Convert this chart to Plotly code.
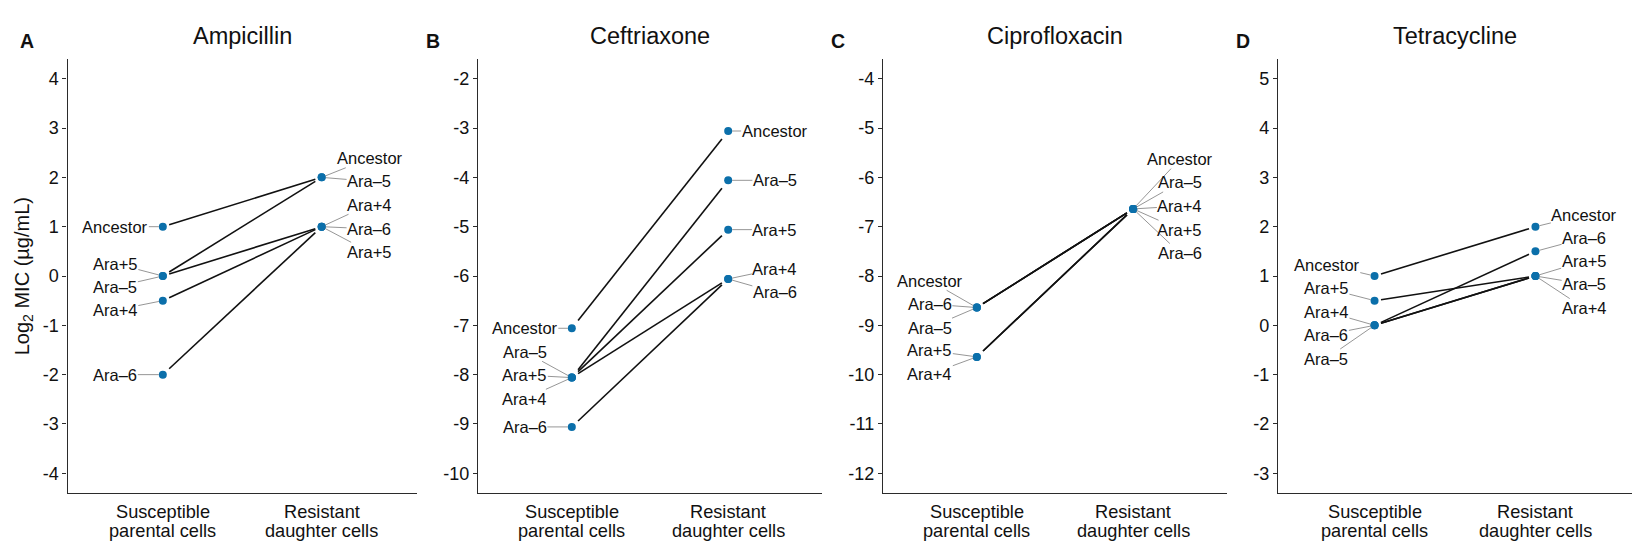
import plotly.graph_objects as go
from plotly.subplots import make_subplots

# ---------------- data ----------------
LINEAGES = ["Ancestor", "Ara–5", "Ara–6", "Ara+4", "Ara+5"]
CATEGORY_LINES = [["Susceptible", "parental cells"], ["Resistant", "daughter cells"]]
CATEGORY_POS = [1, 2]
DRUGS = ["Ampicillin", "Ceftriaxone", "Ciprofloxacin", "Tetracycline"]
PANEL_LETTERS = ["A", "B", "C", "D"]

# log2 MIC (µg/mL), order follows LINEAGES
AMP_PARENT = [1, 0, -2, -0.5, 0]
AMP_DAUGHTER = [2, 2, 1, 1, 1]
CRO_PARENT = [-7.06, -8.06, -9.06, -8.06, -8.06]
CRO_DAUGHTER = [-3.06, -4.06, -6.06, -6.06, -5.06]
CIP_PARENT = [-8.64, -8.64, -8.64, -9.64, -9.64]
CIP_DAUGHTER = [-6.64, -6.64, -6.64, -6.64, -6.64]
TET_PARENT = [1, 0, 0, 0, 0.5]
TET_DAUGHTER = [2, 1, 1.5, 1, 1]

AMP_TICKS = [-4, -3, -2, -1, 0, 1, 2, 3, 4]
CRO_TICKS = [-10, -9, -8, -7, -6, -5, -4, -3, -2]
CIP_TICKS = [-12, -11, -10, -9, -8, -7, -6, -5, -4]
TET_TICKS = [-3, -2, -1, 0, 1, 2, 3, 4, 5]

PARENT = [AMP_PARENT, CRO_PARENT, CIP_PARENT, TET_PARENT]
DAUGHTER = [AMP_DAUGHTER, CRO_DAUGHTER, CIP_DAUGHTER, TET_DAUGHTER]
TICKS = [AMP_TICKS, CRO_TICKS, CIP_TICKS, TET_TICKS]

# ---------------- layout / style ----------------
W, H = 1651, 555
Y_RANGES = [[-4.4, 4.4], [-10.4, -1.6], [-12.4, -3.6], [-3.4, 5.4]]
X_PIX = [(67.5, 417), (478, 822), (883, 1227), (1278, 1632)]
Y_PIX = (59, 493)
LETTER_X = [26.7, 432.7, 837.5, 1242.5]
XLABEL_LINE_Y = [512, 531]
FONT = "Liberation Sans, Arial, sans-serif"
POINT_COLOR = "#0B6FAA"
AXIS_COLOR = "#2b2b2b"
TEXT_COLOR = "#111111"

# label offsets (pixels) for the repelled labels: (dx, dy)
LABEL_OFFSETS = [
    {  # Ampicillin
        "p": {"Ancestor": (-47.5, 0), "Ara+5": (-47.5, -12.5), "Ara–5": (-47.5, 11),
              "Ara+4": (-47.5, 9.5), "Ara–6": (-47.5, 0)},
        "d": {"Ancestor": (47.9, -19.1), "Ara–5": (47.4, 3.9), "Ara+4": (47.4, -21.9),
              "Ara–6": (47.4, 2.1), "Ara+5": (47.4, 25.1)},
    },
    {  # Ceftriaxone
        "p": {"Ancestor": (-47, 0), "Ara–5": (-47, -25.8), "Ara+5": (-47, -2.5),
              "Ara+4": (-47, 21.2), "Ara–6": (-47, 0)},
        "d": {"Ancestor": (46.5, 0), "Ara–5": (46.7, 0), "Ara+5": (46.7, 0),
              "Ara+4": (46.7, -9.9), "Ara–6": (46.7, 13.4)},
    },
    {  # Ciprofloxacin
        "p": {"Ancestor": (-46.8, -26.8), "Ara–6": (-47, -3.5), "Ara–5": (-47, 20.1),
              "Ara+5": (-47, -6.4), "Ara+4": (-47, 17.3)},
        "d": {"Ancestor": (46.8, -49.8), "Ara–5": (46.7, -26.5), "Ara+4": (46.7, -2.8),
              "Ara+5": (46.7, 20.8), "Ara–6": (46.7, 44.1)},
    },
    {  # Tetracycline
        "p": {"Ancestor": (-47.8, -11.3), "Ara+5": (-48.1, -12.4), "Ara+4": (-48.1, -13.8),
              "Ara–6": (-48.1, 9.5), "Ara–5": (-48.1, 33.2)},
        "d": {"Ancestor": (48.9, -12), "Ara–6": (48.7, -13.1), "Ara+5": (48.7, -14.8),
              "Ara–5": (48.7, 8.1), "Ara+4": (48.7, 32.1)},
    },
]

fig = make_subplots(rows=1, cols=4)

SHRINK = 0.04
annotations = []
for i in range(4):
    xa = "x" if i == 0 else f"x{i+1}"
    ya = "y" if i == 0 else f"y{i+1}"
    par, dau = PARENT[i], DAUGHTER[i]
    # connecting lines (slightly shortened at both ends)
    for k, lin in enumerate(LINEAGES):
        x0, x1 = CATEGORY_POS
        y0, y1 = par[k], dau[k]
        xs = [x0 + SHRINK * (x1 - x0), x1 - SHRINK * (x1 - x0)]
        ys = [y0 + SHRINK * (y1 - y0), y1 - SHRINK * (y1 - y0)]
        fig.add_trace(go.Scatter(x=xs, y=ys, mode="lines",
                                 line=dict(color="#111111", width=1.6),
                                 hoverinfo="skip", showlegend=False),
                      row=1, col=i + 1)
    # points
    fig.add_trace(go.Scatter(x=[CATEGORY_POS[0]] * len(par) + [CATEGORY_POS[1]] * len(dau),
                             y=par + dau, mode="markers",
                             marker=dict(color=POINT_COLOR, size=8, line=dict(width=0)),
                             text=LINEAGES + LINEAGES, hoverinfo="text+y",
                             showlegend=False),
                  row=1, col=i + 1)
    # labels
    for side, xv, vals in (("p", CATEGORY_POS[0], par), ("d", CATEGORY_POS[1], dau)):
        for k, lin in enumerate(LINEAGES):
            dx, dy = LABEL_OFFSETS[i][side][lin]
            annotations.append(dict(
                x=xv, y=vals[k], xref=xa, yref=ya, text=lin,
                showarrow=True, arrowhead=0, arrowwidth=0.9, arrowcolor="#8a8a8a",
                ax=dx, ay=dy, standoff=4, startstandoff=0,
                font=dict(family=FONT, size=16.5, color=TEXT_COLOR),
                xanchor="center", yanchor="middle", borderpad=0))
    # category labels (two lines each)
    for cpos, lines in zip(CATEGORY_POS, CATEGORY_LINES):
        for ln, ypix in zip(lines, XLABEL_LINE_Y):
            annotations.append(dict(x=cpos, y=1 - ypix / H, xref=xa, yref="paper",
                                    text=ln, showarrow=False, xanchor="center",
                                    yanchor="middle",
                                    font=dict(family=FONT, size=18.2, color=TEXT_COLOR)))
    # axes
    x0p, x1p = X_PIX[i]
    fig.update_xaxes(domain=[x0p / W, x1p / W], range=[0.4, 2.6],
                     showticklabels=False, ticks="",
                     showline=True, linecolor=AXIS_COLOR, linewidth=1.3,
                     showgrid=False, zeroline=False, automargin=False,
                     row=1, col=i + 1)
    fig.update_yaxes(domain=[1 - Y_PIX[1] / H, 1 - Y_PIX[0] / H], range=Y_RANGES[i],
                     tickvals=TICKS[i], ticktext=[str(t) for t in TICKS[i]],
                     ticks="outside", ticklen=4, tickwidth=1.2, tickcolor=AXIS_COLOR,
                     showline=True, linecolor=AXIS_COLOR, linewidth=1.3,
                     showgrid=False, zeroline=False, automargin=False,
                     tickfont=dict(family=FONT, size=18, color=TEXT_COLOR),
                     row=1, col=i + 1)
    # title
    annotations.append(dict(x=(x0p + x1p) / 2 / W, y=1 - 36 / H, xref="paper", yref="paper",
                            text=DRUGS[i], showarrow=False, xanchor="center", yanchor="middle",
                            font=dict(family=FONT, size=23.5, color=TEXT_COLOR)))
    # panel letter
    annotations.append(dict(x=LETTER_X[i] / W, y=1 - 41 / H, xref="paper", yref="paper",
                            text=f"<b>{PANEL_LETTERS[i]}</b>", showarrow=False,
                            xanchor="center", yanchor="middle",
                            font=dict(family=FONT, size=19.5, color=TEXT_COLOR)))

# y axis title
annotations.append(dict(x=23.3 / W, y=1 - 276 / H, xref="paper", yref="paper",
                        text="Log<sub>2</sub> MIC (µg/mL)", textangle=-90, showarrow=False,
                        xanchor="center", yanchor="middle",
                        font=dict(family=FONT, size=20, color=TEXT_COLOR)))

fig.update_layout(width=W, height=H, margin=dict(l=0, r=0, t=0, b=0),
                  paper_bgcolor="white", plot_bgcolor="white",
                  annotations=annotations, showlegend=False)

fig.write_html("out.html")
